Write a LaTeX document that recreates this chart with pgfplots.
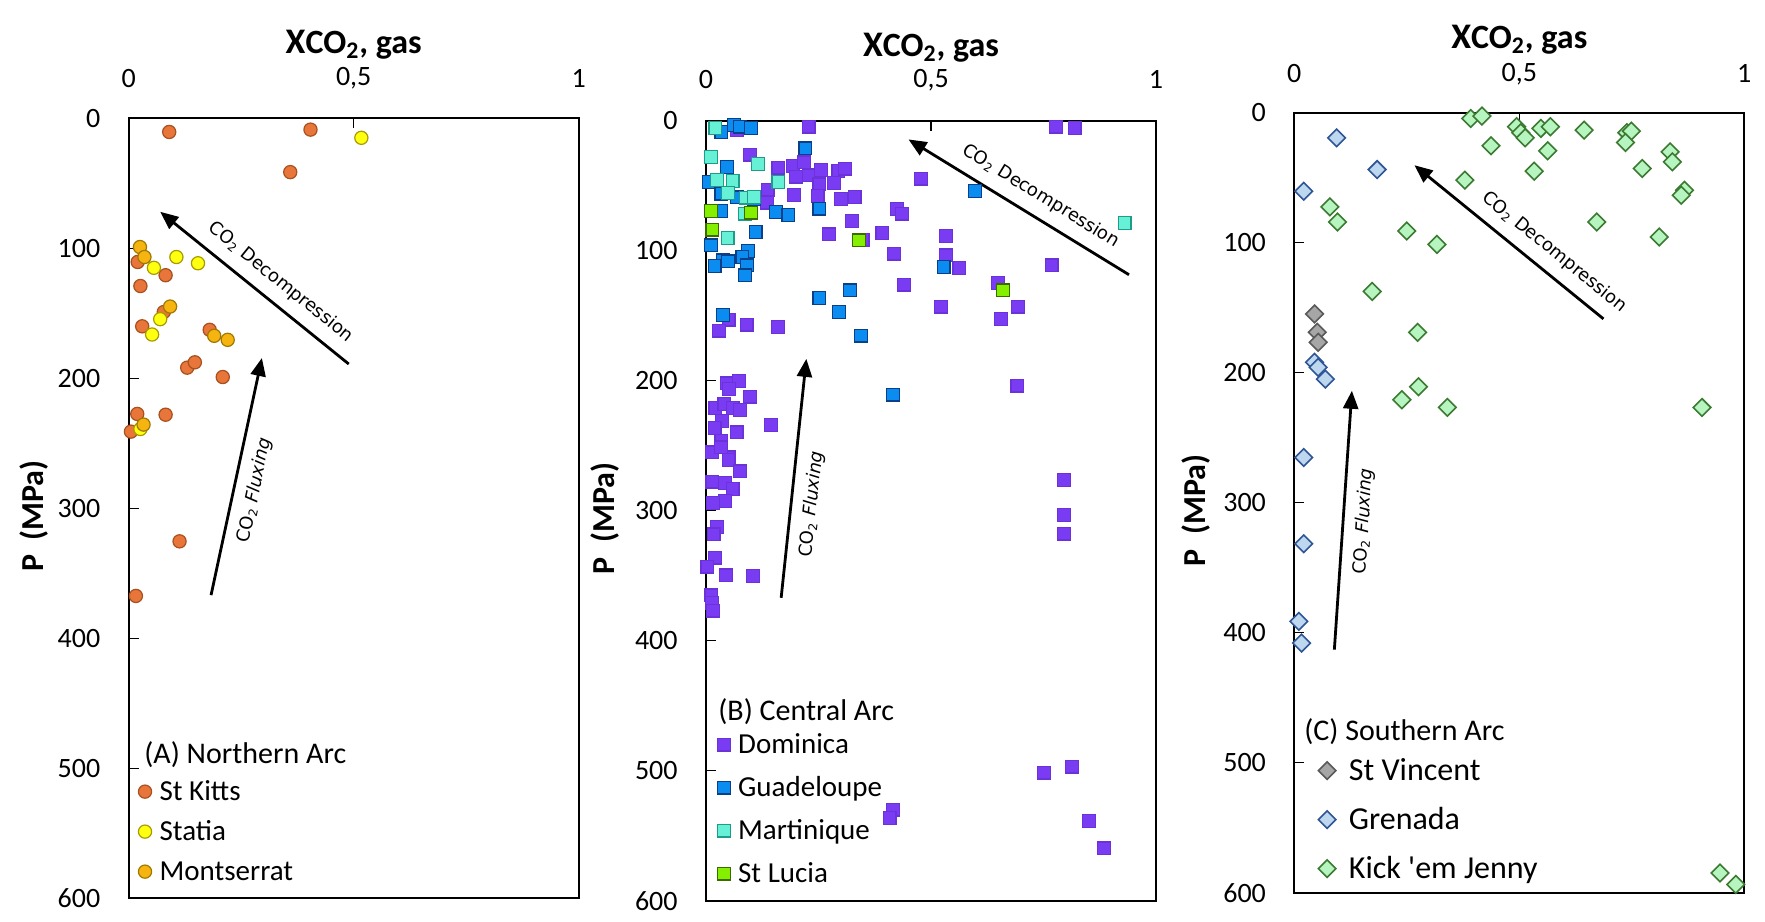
\documentclass[border=0pt]{standalone}
\usepackage{pgfplots}
\pgfplotsset{compat=1.18}
\usetikzlibrary{arrows.meta}
\usepackage{fontspec}
\setmainfont{Carlito}
\newfontfamily\annfont{DejaVu Sans}

\definecolor{kitts}{HTML}{E8763A}
\definecolor{kittsB}{HTML}{A8501E}
\definecolor{statia}{HTML}{FFFF10}
\definecolor{statiaB}{HTML}{A89A00}
\definecolor{monts}{HTML}{F5B410}
\definecolor{montsB}{HTML}{A07800}
\definecolor{domin}{HTML}{7A3CF2}
\definecolor{dominB}{HTML}{6A32D8}
\definecolor{guad}{HTML}{0A8CF0}
\definecolor{guadB}{HTML}{0B3F88}
\definecolor{mart}{HTML}{66F0D6}
\definecolor{martB}{HTML}{1E9C8A}
\definecolor{lucia}{HTML}{84F000}
\definecolor{luciaB}{HTML}{3B6A00}
\definecolor{vinc}{HTML}{A6A6A6}
\definecolor{vincB}{HTML}{595959}
\definecolor{gren}{HTML}{BDD7EE}
\definecolor{grenB}{HTML}{2F5597}
\definecolor{kick}{HTML}{B6F5C0}
\definecolor{kickB}{HTML}{3C7A32}

\tikzset{arr/.style={line width=1.4pt, -{Triangle[length=9pt,width=7.5pt]}},
  ann/.style={font=\annfont\fontsize{9}{10}\selectfont}}
\pgfplotsset{
  common/.style={
    scale only axis, width=225pt, height=390pt,
    xmin=0, xmax=1, ymin=0, ymax=600, y dir=reverse,
    clip=false,
    axis line style={black, line width=1pt},
    xtick={0,0.5,1}, xticklabels={0,{0,5},1},
    xtick pos=upper, xticklabel pos=upper,
    ytick={0,100,200,300,400,500,600},
    yticklabels={0,100,200,300,400,500,600},
    ytick pos=left,
    tick align=inside, major tick length=5pt,
    tick style={black, line width=0.6pt},
    tick label style={font=\fontsize{14}{16}\selectfont},
    xticklabel style={anchor=center, inner sep=0pt},
    yticklabel style={anchor=east, inner sep=0pt, xshift=-14pt},
    ylabel={P\ \ (MPa)},
    ylabel style={font=\bfseries\fontsize{16}{18}\selectfont, anchor=center},
    legend cell align=left,
    legend image code/.code={\draw[mark repeat=2,mark phase=2,#1] plot coordinates {(0pt,0pt)(4pt,0pt)(8pt,0pt)};},
    legend style={draw=none, fill=none, anchor=south west, inner sep=0pt,
      font=\fontsize{14.5}{16}\selectfont,
      nodes={text height=10pt, text depth=1pt, inner sep=0pt}},
  },
  circ/.style={only marks, mark=*, mark size=3.3pt, mark options={fill=#1, draw=#1B, line width=0.6pt}},
  sq/.style={only marks, mark=square*, mark size=3.2pt, mark options={fill=#1, draw=#1B, line width=0.6pt}},
  dia/.style={only marks, mark=square*, mark size=3.1pt, mark options={rotate=45, fill=#1, draw=#1B, line width=0.8pt}},
}
\newcommand{\ttl}{\node[font=\bfseries] at (axis description cs:0.5,1.094) {{\fontsize{18}{20}\selectfont X}{\fontsize{17}{20}\selectfont CO\textsubscript{2}, gas}};}

\begin{document}
\begin{tikzpicture}
\useasboundingbox (0,0) rectangle (882.5pt,460.5pt);

% ---------------- Panel A ----------------
\begin{axis}[common, at={(64.35pt,11.35pt)}, anchor=south west,
  xticklabel style={yshift=20pt},
  ylabel style={at={(axis description cs:-0.211,0.49)}},
  legend style={at={(axis description cs:0.0207,0.0196)},
    /tikz/every odd column/.append style={column sep=4pt}},
  legend style={/tikz/row sep=9pt}]
\addplot[circ=kitts] coordinates {
(0.09,10.5)(0.404,8.7)(0.359,41.4)(0.02,110.5)(0.082,120.7)(0.026,129)
(0.078,149)(0.03,160)(0.18,162.7)(0.13,191.8)(0.147,187.7)(0.209,199)
(0.019,227.4)(0.082,228)(0.005,241)(0.113,325.4)(0.016,367.4)};
\addlegendentry{St Kitts}
\addplot[circ=statia] coordinates {
(0.517,15)(0.056,115)(0.106,106.7)(0.154,111.5)(0.07,154.5)(0.052,166.3)(0.026,239)};
\addlegendentry{Statia}
\addplot[circ=monts] coordinates {
(0.025,99)(0.035,106.7)(0.092,144.8)(0.19,167.3)(0.22,170.4)(0.033,235.6)};
\addlegendentry{Montserrat}
\draw[arr] (axis cs:0.489,189) -- (axis cs:0.07,71.9)
  node[pos=0.43, sloped, above=2pt, ann] {CO\textsubscript{2} Decompression};
\draw[arr] (axis cs:0.183,366.8) -- (axis cs:0.296,184.4)
  node[pos=0.46, sloped, below=2pt, ann] {CO\textsubscript{2} \textit{Fluxing}};
\node[anchor=west, inner sep=0pt, font=\fontsize{15}{17}\selectfont] at (axis description cs:0.034,0.184) {(A) Northern Arc};
\ttl
\end{axis}

% ---------------- Panel B ----------------
\begin{axis}[common, at={(353pt,10.15pt)}, anchor=south west,
  xticklabel style={yshift=20.5pt},
  ylabel style={at={(axis description cs:-0.225,0.49)}},
  legend style={at={(axis description cs:0.0244,0.0201)},
    /tikz/every odd column/.append style={column sep=4pt}},
  legend style={/tikz/row sep=10.5pt}]
\addplot[sq=domin] coordinates {
(0.228,4.6)(0.778,4.6)(0.819,5.7)(0.068,7.2)(0.098,26)(0.161,36)(0.193,34.7)
(0.218,32)(0.2,43)(0.229,42)(0.255,38)(0.294,38.5)(0.309,36.8)(0.284,47.8)
(0.252,49)(0.137,53)(0.135,63)(0.195,57.3)(0.248,57.8)(0.3,60.4)(0.33,58.6)
(0.478,44.5)(0.424,68)(0.435,71.4)(0.324,77)(0.273,87.4)(0.392,86.4)(0.348,91.5)
(0.533,88.7)(0.418,102.3)(0.533,103.6)(0.563,113.3)(0.768,111.3)(0.649,124.9)
(0.44,126)(0.522,143)(0.693,143)(0.655,152.4)(0.05,153)(0.029,161.4)(0.09,156.8)
(0.16,158.8)(0.692,203.8)(0.046,202)(0.073,200)(0.051,206.4)(0.098,212.3)
(0.021,221)(0.041,218)(0.059,221)(0.075,222.6)(0.036,230.8)(0.019,236.4)
(0.068,239.8)(0.144,233.9)(0.034,246)(0.013,255.2)(0.05,259)(0.033,251.3)
(0.05,261.1)(0.076,269.8)(0.014,277.6)(0.042,278.9)(0.059,283.5)(0.042,292.5)
(0.015,294.3)(0.025,312.5)(0.017,318.2)(0.02,336)(0.003,343)(0.044,349.8)
(0.104,350.3)(0.012,365.2)(0.013,370.9)(0.016,376.8)(0.795,276.3)(0.795,303.5)
(0.795,317.6)(0.751,501.4)(0.813,496.9)(0.416,529.9)(0.408,536.3)(0.851,538.9)
(0.884,559.8)};
\addlegendentry{Dominica}
\addplot[sq=guad] coordinates {
(0.062,3.3)(0.076,4.6)(0.1,5.4)(0.034,8.5)(0.221,21.3)(0.047,35.5)(0.006,47)
(0.034,56)(0.068,59)(0.106,60)(0.155,70.2)(0.183,72.7)(0.252,67.6)(0.034,69.4)
(0.598,54)(0.11,85.6)(0.011,95.9)(0.093,100.2)(0.038,107.4)(0.049,108.2)
(0.081,104.9)(0.019,111.8)(0.091,111.3)(0.087,119)(0.528,112.6)(0.32,130.6)
(0.252,136.2)(0.295,147.3)(0.038,149.3)(0.344,165.3)(0.416,210.7)};
\addlegendentry{Guadeloupe}
\addplot[sq=mart] coordinates {
(0.021,5.4)(0.011,27.8)(0.116,33.4)(0.025,45.7)(0.059,46.3)(0.161,47)
(0.049,55.5)(0.089,59.1)(0.106,58.6)(0.087,71.4)(0.048,90)(0.93,78.6)};
\addlegendentry{Martinique}
\addplot[sq=lucia] coordinates {
(0.011,69.4)(0.1,70.7)(0.014,83.8)(0.34,92)(0.66,130.6)};
\addlegendentry{St Lucia}
\draw[arr] (axis cs:0.94,118.5) -- (axis cs:0.45,14.4)
  node[pos=0.45, sloped, above=2pt, ann] {CO\textsubscript{2} Decompression};
\draw[arr] (axis cs:0.167,367) -- (axis cs:0.223,183.2)
  node[pos=0.4, sloped, below=2pt, ann] {CO\textsubscript{2} \textit{Fluxing}};
\node[anchor=west, inner sep=0pt, font=\fontsize{15}{17}\selectfont] at (axis description cs:0.0266,0.243) {(B) Central Arc};
\ttl
\end{axis}

% ---------------- Panel C ----------------
\begin{axis}[common, at={(647.15pt,14.15pt)}, anchor=south west,
  xticklabel style={yshift=19.5pt},
  ylabel style={at={(axis description cs:-0.219,0.49)}},
  legend style={at={(axis description cs:0.0526,0.015)},
    font=\fontsize{16}{18}\selectfont,
    nodes={text height=11pt, text depth=1pt},
    /tikz/every odd column/.append style={column sep=6.5pt}},
  legend style={/tikz/row sep=12.5pt}]
\addplot[dia=vinc] coordinates {
(0.045,154.8)(0.051,168.9)(0.053,176.6)};
\addlegendentry{St Vincent}
\addplot[dia=gren] coordinates {
(0.094,19.3)(0.184,43.7)(0.021,60.4)(0.045,192)(0.053,195.9)(0.069,204.9)
(0.021,265.2)(0.021,331.6)(0.01,391.3)(0.016,408)};
\addlegendentry{Grenada}
\addplot[dia=kick] coordinates {
(0.392,4.4)(0.417,2.6)(0.494,10.8)(0.503,15.4)(0.513,19.3)(0.548,12.1)(0.569,10.8)
(0.644,13.4)(0.739,15.4)(0.749,14.1)(0.736,22.9)(0.437,25.4)(0.563,29.3)(0.533,45)
(0.379,51.9)(0.773,42.9)(0.835,30.1)(0.84,37.8)(0.867,59.6)(0.86,63.5)(0.079,72.5)
(0.096,84.1)(0.672,84.1)(0.25,91)(0.317,101.3)(0.811,95.6)(0.173,137.5)(0.274,168.9)
(0.276,210.8)(0.239,220.8)(0.34,226.7)(0.906,226.7)(0.946,584.8)(0.981,593.6)};
\addlegendentry{Kick \textquotesingle em Jenny}
\draw[arr] (axis cs:0.687,158.6) -- (axis cs:0.267,40.4)
  node[pos=0.33, sloped, above=2pt, ann] {CO\textsubscript{2} Decompression};
\draw[arr] (axis cs:0.089,413) -- (axis cs:0.128,213.9)
  node[pos=0.5, sloped, below=2pt, ann] {CO\textsubscript{2} \textit{Fluxing}};
\node[anchor=west, inner sep=0pt, font=\fontsize{15}{17}\selectfont] at (axis description cs:0.0215,0.207) {(C) Southern Arc};
\ttl
\end{axis}
\end{tikzpicture}
\end{document}
